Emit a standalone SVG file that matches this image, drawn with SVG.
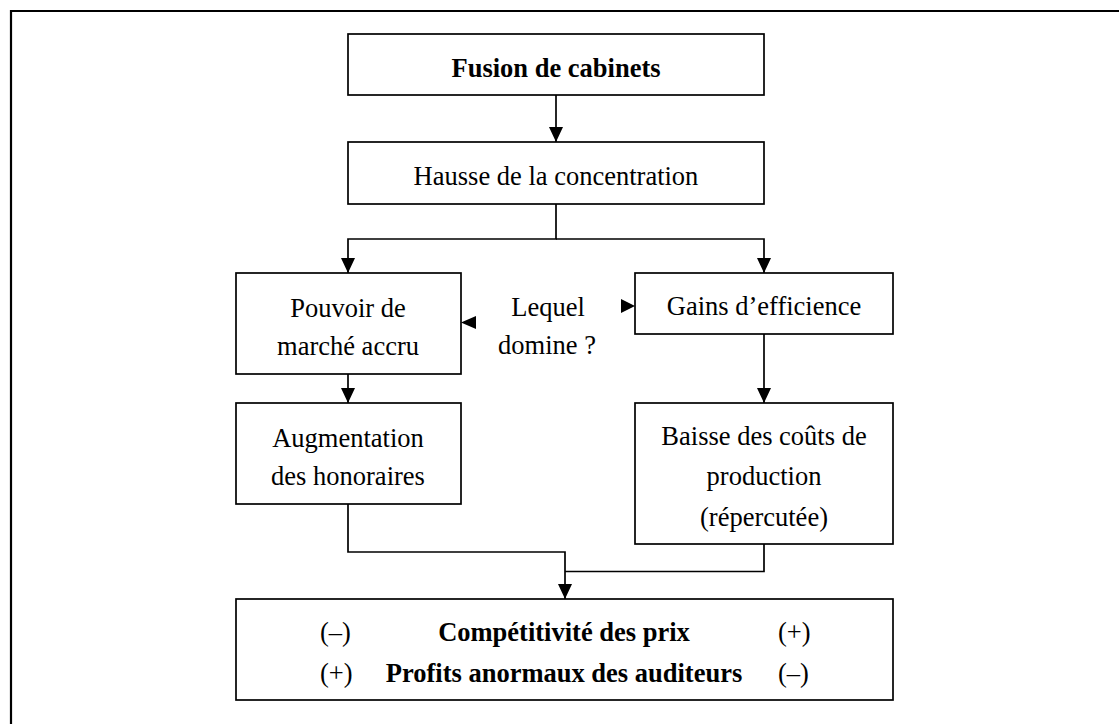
<svg xmlns="http://www.w3.org/2000/svg" width="1119" height="724" viewBox="0 0 1119 724" font-family="'Liberation Serif', 'DejaVu Serif', serif">
<defs>
<style>
.box{fill:#fff;stroke:#000;stroke-width:1.7}
.t{font-family:'Liberation Serif','DejaVu Serif',serif;font-size:26.5px;fill:#000;text-anchor:middle}
.b{font-weight:bold}
.s{text-anchor:start}
.c{fill:none;stroke:#000;stroke-width:1.7}
.h{fill:#000;stroke:none}
</style>
<marker id="arr" viewBox="0 0 15 14" refX="15" refY="7" markerWidth="15" markerHeight="14" orient="auto" markerUnits="userSpaceOnUse">
<path d="M0,0 L15,7 L0,14 z" fill="#000"/>
</marker>
</defs>
<rect width="1119" height="724" fill="#fff"/>
<path d="M11,724 V11 H1119" fill="none" stroke="#000" stroke-width="2.2"/>

<g id="connectors">
<path class="c" d="M556,95 V142" marker-end="url(#arr)"/>
<path class="c" d="M556,204 V239 H348 V273" marker-end="url(#arr)"/>
<path class="c" d="M556,239 H764 V273" marker-end="url(#arr)"/>
<path class="c" d="M348,374 V403" marker-end="url(#arr)"/>
<path class="c" d="M764,334 V403" marker-end="url(#arr)"/>
<path class="c" d="M348,504 V552 H565 V599" marker-end="url(#arr)"/>
<path class="c" d="M764,544 V571.5 H565"/>
<polygon class="h" points="461,322.5 476,316 476,329"/>
<polygon class="h" points="635,306 621,299 621,313"/>
</g>

<g id="fusion">
<rect class="box" x="348" y="34" width="416" height="61"/>
<text class="t b" x="556" y="77">Fusion de cabinets</text>
</g>
<g id="hausse">
<rect class="box" x="348" y="142" width="416" height="62"/>
<text class="t" x="556" y="185">Hausse de la concentration</text>
</g>
<g id="pouvoir">
<rect class="box" x="236" y="273" width="225" height="101"/>
<text class="t" x="348" y="317">Pouvoir de</text>
<text class="t" x="348" y="355">marché accru</text>
</g>
<g id="lequel">
<text class="t" x="548" y="316">Lequel</text>
<text class="t" x="547" y="354">domine ?</text>
</g>
<g id="gains">
<rect class="box" x="635" y="273" width="258" height="61"/>
<text class="t" x="764" y="315">Gains d’efficience</text>
</g>
<g id="augmentation">
<rect class="box" x="236" y="403" width="225" height="101"/>
<text class="t" x="348" y="447">Augmentation</text>
<text class="t" x="348" y="485">des honoraires</text>
</g>
<g id="baisse">
<rect class="box" x="635" y="403" width="258" height="141"/>
<text class="t" x="764" y="445">Baisse des coûts de</text>
<text class="t" x="764" y="485">production</text>
<text class="t" x="764" y="526">(répercutée)</text>
</g>
<g id="resultat">
<rect class="box" x="236" y="599" width="657" height="101"/>
<text class="t s" x="320" y="641">(–)</text>
<text class="t b" x="564" y="641">Compétitivité des prix</text>
<text class="t s" x="778" y="641">(+)</text>
<text class="t s" x="320" y="682">(+)</text>
<text class="t b" x="564" y="682">Profits anormaux des auditeurs</text>
<text class="t s" x="778" y="682">(–)</text>
</g>
</svg>
